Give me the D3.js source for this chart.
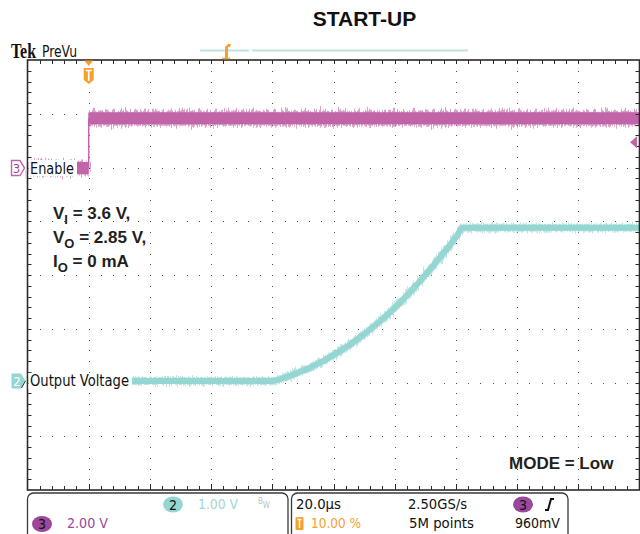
<!DOCTYPE html>
<html>
<head>
<meta charset="utf-8">
<script src="https://cdn.jsdelivr.net/npm/d3@7"></script>
<style>
  html, body { margin: 0; padding: 0; background: #fff; }
  svg { display: block; }
  .ui { font-family: "DejaVu Sans Condensed", "Liberation Sans Narrow", "DejaVu Sans", sans-serif; font-stretch: condensed; }
  .ann { font-family: "Liberation Sans", Arial, sans-serif; font-weight: bold; fill: #231f20; }
</style>
</head>
<body>
<svg id="scope" width="640" height="534"></svg>
<script>
// ---- acquisition data -------------------------------------------------
const timeDomain = [-20, 180];            // µs, 20 µs/div, trigger at 10 %
// Channel 2: output voltage (1.00 V/div)
const ch2Time = [-20, 60, 65, 70, 75, 80, 85, 90, 95, 100, 105, 110, 115, 120, 122.3, 180];
const ch2Volt = [0, 0, 0.08, 0.19, 0.32, 0.48, 0.66, 0.87, 1.1, 1.36, 1.65, 1.97, 2.31, 2.67, 2.85, 2.85];
// Channel 3: enable (2.00 V/div)
const ch3Time = [-20, 0, 0, 180];
const ch3Volt = [0, 0, 1.85, 1.85];
const ch2Scale = 1.0, ch3Scale = 2.0;        // V/div
const ch2Position = -1.97, ch3Position = 1.99; // div from centre
const triggerLevel = 0.96;                   // V on ch3

const title = "START-UP";
const conditions = [["V", "I", " = 3.6 V,"], ["V", "O", " = 2.85 V,"], ["I", "O", " = 0 mA"]];
const modeText = "MODE = Low";
const ch2Label = "Output Voltage", ch3Label = "Enable";
const ch2ScaleText = "1.00 V", ch3ScaleText = "2.00 V";
const horizText = ["20.0µs", "2.50GS/s", "10.00 %", "5M points", "960mV"];

// ---- layout ------------------------------------------------------------
const L = 27.5, R = 639.5, T = 60, B = 490;
const divX = (R - L) / 10, divY = (B - T) / 8;
const magenta = "#c265a8", magentaDark = "#9b479b", cyan = "#95d6d2", cyanText = "#9ed6d6", orange = "#f6a02e";

const svg = d3.select("#scope");
const defs = svg.append("defs");
function fuzz(id, scale, seed) {
  const f = defs.append("filter").attr("id", id).attr("filterUnits", "userSpaceOnUse")
    .attr("x", 0).attr("y", 0).attr("width", 640).attr("height", 534);
  f.append("feTurbulence").attr("type", "fractalNoise").attr("baseFrequency", "0.8 0.04")
    .attr("numOctaves", 2).attr("seed", seed).attr("result", "n");
  f.append("feDisplacementMap").attr("in", "SourceGraphic").attr("in2", "n")
    .attr("scale", scale).attr("xChannelSelector", "R").attr("yChannelSelector", "G");
}
fuzz("fuzzM", 13, 4);
fuzz("fuzzC", 7, 9);

const x = d3.scaleLinear().domain(timeDomain).range([L, R]);
const yScale = (vdiv, pos) => d3.scaleLinear()
  .domain([(-4 - pos) * vdiv, (4 - pos) * vdiv]).range([B, T]);
const y2 = yScale(ch2Scale, ch2Position);
const y3 = yScale(ch3Scale, ch3Position);

// ---- graticule ---------------------------------------------------------
const grid = svg.append("g");
for (let k = 1; k < 10; k++) {
  const gx = Math.round(L + k * divX);
  for (let j = 1; j < 40; j++) {
    grid.append("rect").attr("x", gx).attr("y", Math.round(T + j * divY / 5)).attr("width", 1).attr("height", 1).attr("fill", "#4a4a4a");
  }
}
for (let k = 1; k < 8; k++) {
  const gy = Math.round(T + k * divY);
  for (let j = 1; j < 50; j++) {
    grid.append("rect").attr("x", Math.round(L + j * divX / 5)).attr("y", gy).attr("width", 1).attr("height", 1).attr("fill", "#4a4a4a");
  }
}

// ---- traces ------------------------------------------------------------
const stepLine = d3.line();
const smoothLine = d3.line().curve(d3.curveMonotoneX);
function drawTrace(times, volts, ys, color, coreW, fuzzW, filterId) {
  const g = svg.append("g");
  for (let i = 0; i < times.length - 1; i++) {
    const p0 = [x(times[i]), ys(volts[i])], p1 = [x(times[i + 1]), ys(volts[i + 1])];
    if (times[i] === times[i + 1]) {
      g.append("path").attr("d", stepLine([p0, p1])).attr("stroke", color).attr("stroke-width", 1.5).attr("fill", "none");
    }
  }
  // continuous runs (no vertical steps) drawn as thick noisy bands
  const runs = [];
  let cur = [0];
  for (let i = 1; i < times.length; i++) {
    if (times[i] === times[i - 1]) { runs.push(cur); cur = [i]; } else cur.push(i);
  }
  runs.push(cur);
  runs.forEach(r => {
    if (r.length < 2) return;
    const pts = r.map(i => [x(times[i]), ys(volts[i])]);
    g.append("path").attr("d", smoothLine(pts)).attr("stroke", color).attr("stroke-width", fuzzW)
      .attr("fill", "none").attr("opacity", 0.6).attr("filter", `url(#${filterId})`);
    g.append("path").attr("d", smoothLine(pts)).attr("stroke", color).attr("stroke-width", coreW)
      .attr("fill", "none").attr("stroke-linejoin", "round");
  });
}
drawTrace(ch3Time, ch3Volt, y3, magenta, 12, 15, "fuzzM");
drawTrace(ch2Time, ch2Volt, y2, cyan, 6, 8, "fuzzC");

// ---- frame and ticks ---------------------------------------------------
const frame = svg.append("g").attr("stroke", "#2b2b2b");
frame.append("rect").attr("x", L).attr("y", T).attr("width", R - L).attr("height", B - T)
  .attr("fill", "none").attr("stroke-width", 1.6);
for (let j = 1; j < 50; j++) {
  const tx = Math.round(L + j * divX / 5) + 0.5;
  const major = j % 5 === 0;
  frame.append("line").attr("x1", tx).attr("x2", tx).attr("y1", T).attr("y2", T + 4).attr("stroke-width", 1);
  frame.append("line").attr("x1", tx).attr("x2", tx).attr("y1", B).attr("y2", B - (major ? 6 : 4)).attr("stroke-width", 1);
}
for (let j = 1; j < 40; j++) {
  const ty = Math.round(T + j * divY / 5) + 0.5;
  frame.append("line").attr("x1", L).attr("x2", L + 4).attr("y1", ty).attr("y2", ty).attr("stroke-width", 1);
  frame.append("line").attr("x1", R).attr("x2", R - 4).attr("y1", ty).attr("y2", ty).attr("stroke-width", 1);
}

// ---- channel labels ----------------------------------------------------
function traceLabel(text, yPix, x1) {
  svg.append("rect").attr("x", L + 1).attr("y", yPix - 8).attr("width", x1 - L - 1).attr("height", 16).attr("fill", "#fff");
  svg.append("text").attr("class", "ui").attr("x", 30).attr("y", yPix + 5.5).attr("font-size", 15.5)
    .attr("fill", "#111").text(text)
    .attr("textLength", x1 - 33).attr("lengthAdjust", "spacingAndGlyphs");
}
traceLabel(ch3Label, y3(0), 77);
traceLabel(ch2Label, y2(0), 132);

// channel 3 ground marker (outlined)
{
  const gy = y3(0);
  svg.append("path").attr("d", `M11.5,${gy - 7.5} H20 L24.5,${gy} L20,${gy + 7.5} H11.5 Z`)
    .attr("fill", "#fff").attr("stroke", magenta).attr("stroke-width", 1.4);
  svg.append("text").attr("class", "ui").attr("x", 16.5).attr("y", gy + 5).attr("text-anchor", "middle")
    .attr("font-size", 13).attr("fill", magentaDark).text("3");
}
// channel 2 ground marker (filled)
{
  const gy = y2(0);
  svg.append("path").attr("d", `M11.5,${gy - 7.5} H21 L25.5,${gy} L21,${gy + 7.5} H11.5 Z`).attr("fill", cyan);
  svg.append("text").attr("class", "ui").attr("x", 17).attr("y", gy + 5).attr("text-anchor", "middle")
    .attr("font-size", 13).attr("fill", "#fff").text("2");
  svg.append("path").attr("d", `M21.5,${gy + 7} L25.5,${gy}`).attr("stroke", "#333").attr("stroke-width", 1);
}
// trigger level arrow on the right edge
{
  const ty = y3(triggerLevel);
  svg.append("path").attr("d", `M630,${ty} L637,${ty - 6} L637,${ty + 6} Z`).attr("fill", magenta);
}
// trigger position marker
{
  const tx = x(0);
  svg.append("path").attr("d", `M${tx - 4.5},${T + 0.5} H${tx + 4.5} L${tx},${T + 6} Z`).attr("fill", orange);
  svg.append("path").attr("d", `M${tx - 5},${T + 8} H${tx + 5} V${T + 20} L${tx},${T + 24} L${tx - 5},${T + 20} Z`).attr("fill", orange);
  svg.append("path").attr("d", `M${tx - 3},${T + 10.5} H${tx + 3} M${tx},${T + 10.5} V${T + 21}`).attr("stroke", "#fff").attr("stroke-width", 1.6);
}

// ---- header --------------------------------------------------------------
svg.append("text").attr("x", 364.5).attr("y", 26).attr("text-anchor", "middle")
  .attr("font-family", "Liberation Sans, Arial, sans-serif").attr("font-weight", "bold")
  .attr("font-size", 21).attr("fill", "#111").text(title);
svg.append("text").attr("x", 11).attr("y", 58).attr("font-family", "Liberation Serif, serif")
  .attr("font-weight", "bold").attr("font-size", 21).attr("fill", "#111").text("Tek")
  .attr("textLength", 25).attr("lengthAdjust", "spacingAndGlyphs");
svg.append("text").attr("class", "ui").attr("x", 42).attr("y", 57).attr("font-size", 15)
  .attr("fill", "#111").text("PreVu").attr("textLength", 35).attr("lengthAdjust", "spacingAndGlyphs");
// record overview bar
svg.append("path").attr("d", "M200,50.5 H249 M252,50.5 H468").attr("stroke", "#bfe3e3").attr("stroke-width", 2);
svg.append("path").attr("d", "M225,58 V47 L228,44 H231 L230,47 H228 V58 Z").attr("fill", orange);
svg.append("path").attr("d", "M222,58.5 H230").attr("stroke", orange).attr("stroke-width", 1.5);

// ---- annotations -----------------------------------------------------------
conditions.forEach((c, i) => {
  const t = svg.append("text").attr("class", "ann").attr("x", 53).attr("y", 219 + i * 24).attr("font-size", 17);
  t.append("tspan").text(c[0]);
  t.append("tspan").attr("dy", 5).attr("font-size", 13).text(c[1]);
  t.append("tspan").attr("dy", -5).text(c[2]);
});
svg.append("text").attr("class", "ann").attr("x", 509).attr("y", 469).attr("font-size", 17).text(modeText);

// ---- status readout ----------------------------------------------------------
const status = svg.append("g");
status.append("rect").attr("x", 27.5).attr("y", 493).attr("width", 260.5).attr("height", 50).attr("rx", 6)
  .attr("fill", "#fff").attr("stroke", "#3a3a3a").attr("stroke-width", 1.3);
status.append("rect").attr("x", 291.5).attr("y", 493).attr("width", 276.5).attr("height", 50).attr("rx", 6)
  .attr("fill", "#fff").attr("stroke", "#3a3a3a").attr("stroke-width", 1.3);

function pill(cx, cy, fill, label) {
  status.append("ellipse").attr("cx", cx).attr("cy", cy).attr("rx", 10).attr("ry", 8).attr("fill", fill);
  status.append("text").attr("class", "ui").attr("x", cx).attr("y", cy + 5).attr("text-anchor", "middle")
    .attr("font-size", 14).attr("fill", "#111").text(label);
}
function stxt(tx, ty, text, color, w) {
  const t = status.append("text").attr("class", "ui").attr("x", tx).attr("y", ty).attr("font-size", 14.5)
    .attr("fill", color).text(text);
  if (w) t.attr("textLength", w).attr("lengthAdjust", "spacingAndGlyphs");
}
pill(173, 504.5, cyan, "2");
stxt(198, 509, ch2ScaleText, cyanText, 40);
{
  const bw = status.append("text").attr("class", "ui").attr("x", 258).attr("y", 504).attr("font-size", 8).attr("fill", "#a9c9c9");
  bw.append("tspan").text("B");
  bw.append("tspan").attr("dy", 4).text("W");
}
pill(42, 524, magentaDark, "3");
stxt(67, 528, ch3ScaleText, magentaDark, 41);

stxt(296, 509, horizText[0], "#111", 45);
stxt(408, 509, horizText[1], "#111", 59);
pill(523, 504.5, magentaDark, "3");
status.append("path").attr("d", "M545,510 H548 L551,499 H554").attr("fill", "none").attr("stroke", "#111").attr("stroke-width", 2);
status.append("rect").attr("x", 295.5).attr("y", 517).attr("width", 8).attr("height", 13).attr("rx", 1.5).attr("fill", orange);
status.append("path").attr("d", "M297.5,519.5 H301.5 M299.5,519.5 V528").attr("stroke", "#fff").attr("stroke-width", 1.4);
stxt(311, 528, horizText[2], orange, 50);
stxt(409, 528, horizText[3], "#111", 65);
stxt(515, 528, horizText[4], "#111", 45);
</script>
</body>
</html>
